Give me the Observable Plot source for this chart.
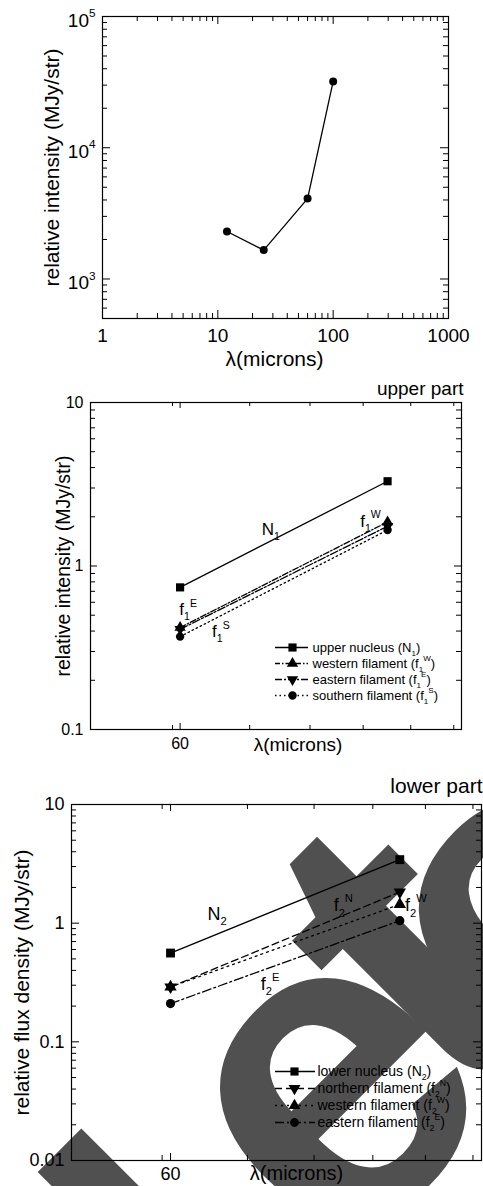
<!DOCTYPE html>
<html><head><meta charset="utf-8">
<script src="https://cdn.jsdelivr.net/npm/d3@7"></script>
<script src="https://cdn.jsdelivr.net/npm/@observablehq/plot@0.6"></script>
<style>
body{margin:0;background:#fff;}
#wrap{position:relative;width:483px;height:1186px;overflow:hidden;font-family:"Liberation Sans",Arial,sans-serif;background:#fff;}
#wm{position:absolute;left:0;top:0;z-index:0}
.panel{position:relative;z-index:1;display:block}
.legend{position:absolute;z-index:2}
</style></head><body><div id="wrap"></div>
<script>
// ---------- data ----------
const wl1 = [12, 25, 60, 100];
const int1 = [2300, 1660, 4100, 32000];

const wlIR = [60, 95];
const upperN1 = [0.74, 3.30];
const upperF1W = [0.42, 1.86];
const upperF1E = [0.41, 1.75];
const upperF1S = [0.37, 1.66];

const lowerN2 = [0.56, 3.43];
const lowerF2N = [0.29, 1.83];
const lowerF2W = [0.29, 1.44];
const lowerF2E = [0.21, 1.05];

// tick labels
const p1XTicks = [1, 10, 100, 1000];
const p1YTicks = [1e3, 1e4, 1e5];
const irXTicks = [60];
const irXMinor = [59, 70, 80, 90, 100, 110];
const p2YTicks = [0.1, 1, 10];
const p3YTicks = [0.01, 0.1, 1, 10];

// annotation labels (data coords)
const upperLabels = [
  {x: 71.9, y: 1.68, t: "N_1"},
  {x: 89.4, y: 1.88, t: "f_1^W"},
  {x: 59.9, y: 0.54, t: "f_1^E"},
  {x: 64.4, y: 0.395, t: "f_1^S"}
];
const lowerLabels = [
  {x: 64.6, y: 1.2, t: "N_2"},
  {x: 83.2, y: 1.41, t: "f_2^N"},
  {x: 96.0, y: 1.41, t: "f_2^W"},
  {x: 71.9, y: 0.307, t: "f_2^E"}
];

// ---------- helpers ----------
const triangleDown = {
  draw(context, size) {
    const s3 = Math.sqrt(3);
    const y = -Math.sqrt(size / (s3 * 3));
    context.moveTo(0, -y * 2);
    context.lineTo(-s3 * y, y);
    context.lineTo(s3 * y, y);
    context.closePath();
  }
};
const rows = (xs, ys) => xs.map((x, i) => ({x, y: ys[i]}));
function logMinor(lo, hi) {
  const out = [];
  for (let e = Math.floor(Math.log10(lo)); e <= Math.ceil(Math.log10(hi)); e++)
    for (let k = 2; k <= 9; k++) { const v = +(k * Math.pow(10, e)).toPrecision(6); if (v > lo && v < hi) out.push(v); }
  return out;
}
const FONT = '"Liberation Sans", Arial, Helvetica, sans-serif';
const style = {background: "transparent", fontFamily: FONT, color: "black", overflow: "visible"};

function buildPanel(c) {
  const fw = 483 - c.ml - c.mr, fh = c.height - c.mt - c.mb;
  const rx = (vals, len) => [
    Plot.ruleX(vals, {x: d => d, insetTop: fh - len, stroke: "black", strokeWidth: 1}),
    Plot.ruleX(vals, {x: d => d, insetBottom: fh - len, stroke: "black", strokeWidth: 1})
  ];
  const ry = (vals, len) => [
    Plot.ruleY(vals, {y: d => d, insetRight: fw - len, stroke: "black", strokeWidth: 1}),
    Plot.ruleY(vals, {y: d => d, insetLeft: fw - len, stroke: "black", strokeWidth: 1})
  ];
  const marks = [
    ...c.series.map(s => Plot.line(s.data, {x: "x", y: "y", stroke: "black", strokeWidth: 1.3, strokeDasharray: s.dash})),
    ...c.series.map(s => Plot.dot(s.data, {x: "x", y: "y", symbol: s.symbol, r: s.r, fill: "black", stroke: "none"})),
    Plot.text(c.labels || [], {x: "x", y: "y", text: "t", textAnchor: "start", fontSize: c.labelFont, fill: "black"}),
    Plot.frame({stroke: "black", strokeWidth: 1.2}),
    ...rx(c.xMajor, c.xMajorLen), ...rx(c.xMinor, c.xMinorLen),
    ...ry(c.yMajor, c.yMajorLen), ...ry(c.yMinor, c.yMinorLen),
    Plot.axisX(c.xMajor, {anchor: "bottom", tickSize: 0, tickPadding: c.xPad, tickFormat: c.xFmt, fontSize: c.tickFont, label: null}),
    Plot.axisY(c.yMajor, {anchor: "left", tickSize: 0, tickPadding: c.yPad, tickFormat: c.yFmt, fontSize: c.tickFont, label: null, dy: c.yDy || 0}),
    Plot.text([c.yTitle], {frameAnchor: "left", rotate: -90, textAnchor: "middle", lineAnchor: "middle", dx: c.yTitleDx, text: d => d, fontSize: c.yTitleFont, fill: "black"}),
    Plot.text([c.xTitle], {frameAnchor: "bottom", textAnchor: "middle", lineAnchor: "middle", dx: c.xTitleDx, dy: c.xTitleDy, text: d => d, fontSize: c.xTitleFont, fill: "black"})
  ];
  if (c.corner) marks.push(Plot.text([c.corner], {frameAnchor: "top-right", textAnchor: "end", lineAnchor: "middle", dx: c.cornerDx, dy: c.cornerDy, text: d => d, fontSize: c.cornerFont, fill: "black"}));
  const svg = Plot.plot({
    width: 483, height: c.height,
    marginTop: c.mt, marginBottom: c.mb, marginLeft: c.ml, marginRight: c.mr,
    x: {type: "log", domain: c.xDomain},
    y: {type: "log", domain: c.yDomain},
    style, marks
  });
  svg.classList.add("panel");
  return svg;
}

function buildLegend(items, o) {
  const labels = items.map(d => d.label);
  const marks = [];
  for (const it of items) {
    marks.push(Plot.ruleY([it.label], {y: d => d, x1: o.lx1, x2: o.lx2, stroke: "black", strokeWidth: 1.3, strokeDasharray: it.dash}));
    marks.push(Plot.dot([it.label], {x: o.mx, y: d => d, symbol: it.symbol, r: it.r, fill: "black", stroke: "none"}));
  }
  marks.push(Plot.text(items, {x: o.tx, y: "label", text: "label", textAnchor: "start", fontSize: o.font, fill: "black"}));
  const svg = Plot.plot({
    width: o.width, height: o.height, margin: 0, axis: null,
    x: {type: "identity"},
    y: {type: "point", domain: labels, range: [o.y0, o.y1]},
    style, marks
  });
  svg.classList.add("legend");
  svg.style.left = o.left + "px";
  svg.style.top = o.top + "px";
  return svg;
}

function richify(root) {
  root.querySelectorAll("text").forEach(t => {
    const s = t.textContent;
    if (!/[_^]/.test(s)) return;
    const fs = parseFloat(getComputedStyle(t).fontSize) || 12;
    const segs = [];
    for (let i = 0; i < s.length; i++) {
      const ch = s[i];
      if ((ch === "_" || ch === "^") && i + 1 < s.length) {
        let body;
        if (s[i + 1] === "{") { const j = s.indexOf("}", i + 2); body = s.slice(i + 2, j); i = j; }
        else { body = s[i + 1]; i++; }
        segs.push({t: body, m: ch === "_" ? "sub" : "sup"});
      } else if (segs.length && segs[segs.length - 1].m === "n") segs[segs.length - 1].t += ch;
      else segs.push({t: ch, m: "n"});
    }
    while (t.firstChild) t.removeChild(t.firstChild);
    let shift = 0;
    for (const g of segs) {
      const ts = document.createElementNS("http://www.w3.org/2000/svg", "tspan");
      const target = g.m === "sub" ? 0.3 * fs : g.m === "sup" ? -0.5 * fs : 0;
      if (target !== shift) ts.setAttribute("dy", target - shift);
      shift = target;
      if (g.m !== "n") ts.setAttribute("font-size", (0.62 * fs).toFixed(2));
      ts.textContent = g.t;
      t.appendChild(ts);
    }
  });
}

// ---------- build ----------
const wrap = document.getElementById("wrap");

// watermark (background decoration): rotated word, its 4th letter placed at a target point
const wm = d3.create("svg").attr("id", "wm").attr("width", 483).attr("height", 1186);
const WF = 450, WSP = -40;
const wg = wm.append("g");
const wt = wg.append("text").attr("x", 0).attr("y", 0)
  .attr("dx", "0 0 -86 86 -12 -41 0").attr("dy", "0 0 44 -44 -28 42 0")
  .attr("font-family", FONT).attr("font-weight", "bold").attr("font-size", WF)
  .attr("letter-spacing", WSP).attr("fill", "#505050").text("Deleted");
wrap.appendChild(wm.node());
{
  const n = wt.node();
  const a = n.getStartPositionOfChar(3), b = n.getEndPositionOfChar(3);
  const cx = (a.x + b.x - WSP) / 2, cy = a.y - 0.265 * WF;
  const k = Math.SQRT1_2;
  const rx = cx * k + cy * k, ry = -cx * k + cy * k;
  wg.attr("transform", `translate(${340 - rx},${1100 - ry}) rotate(-45)`);
}

// Panel 1
wrap.appendChild(buildPanel({
  height: 372, mt: 16, mb: 54, ml: 102, mr: 35,
  xDomain: [1, 1000], yDomain: [500, 1e5],
  series: [{data: rows(wl1, int1), symbol: "circle", r: 4}],
  xMajor: p1XTicks, xMinor: logMinor(1, 1000), xMajorLen: 8, xMinorLen: 5,
  yMajor: p1YTicks, yMinor: logMinor(500, 1e5), yMajorLen: 8, yMinorLen: 5,
  xFmt: d => String(d), yFmt: d => `10^${Math.round(Math.log10(d))}`,
  tickFont: 19, xPad: 10, yPad: 7, yDy: 4,
  yTitle: "relative intensity (MJy/str)", yTitleDx: -50, yTitleFont: 21,
  xTitle: "λ(microns)", xTitleDx: -1, xTitleDy: 41, xTitleFont: 21
}));

// Panel 2
wrap.appendChild(buildPanel({
  height: 398, mt: 30, mb: 41, ml: 90, mr: 22,
  xDomain: [49.2, 111.9], yDomain: [0.1, 10],
  series: [
    {data: rows(wlIR, upperN1), symbol: "square", r: 4.6},
    {data: rows(wlIR, upperF1W), symbol: "triangle", r: 4.2, dash: "6,2,1.5,2"},
    {data: rows(wlIR, upperF1E), symbol: triangleDown, r: 4.2, dash: "8,2,2,2"},
    {data: rows(wlIR, upperF1S), symbol: "circle", r: 4.2, dash: "1.5,3"}
  ],
  labels: upperLabels, labelFont: 17,
  xMajor: irXTicks, xMinor: irXMinor, xMajorLen: 6, xMinorLen: 4,
  yMajor: p2YTicks, yMinor: logMinor(0.1, 10), yMajorLen: 7, yMinorLen: 5,
  xFmt: d => String(d), yFmt: d => String(d),
  tickFont: 16, xPad: 8, yPad: 7,
  yTitle: "relative intensity (MJy/str)", yTitleDx: -27, yTitleFont: 19.5,
  xTitle: "λ(microns)", xTitleDx: 22, xTitleDy: 15, xTitleFont: 19,
  corner: "upper part", cornerDx: 2, cornerDy: -14, cornerFont: 19
}));

// Panel 3
wrap.appendChild(buildPanel({
  height: 416, mt: 34, mb: 26, ml: 71, mr: 2,
  xDomain: [49.2, 111.9], yDomain: [0.01, 10],
  series: [
    {data: rows(wlIR, lowerN2), symbol: "square", r: 5},
    {data: rows(wlIR, lowerF2N), symbol: triangleDown, r: 4.6, dash: "7,4"},
    {data: rows(wlIR, lowerF2W), symbol: "triangle", r: 4.6, dash: "2,4"},
    {data: rows(wlIR, lowerF2E), symbol: "circle", r: 4.6, dash: "9,3,2,3"}
  ],
  labels: lowerLabels, labelFont: 18,
  xMajor: irXTicks, xMinor: irXMinor, xMajorLen: 7, xMinorLen: 5,
  yMajor: p3YTicks, yMinor: logMinor(0.01, 10), yMajorLen: 8, yMinorLen: 5,
  xFmt: d => String(d), yFmt: d => String(d),
  tickFont: 18, xPad: 7, yPad: 7,
  yTitle: "relative flux density (MJy/str)", yTitleDx: -49, yTitleFont: 21,
  xTitle: "λ(microns)", xTitleDx: 20, xTitleDy: 13, xTitleFont: 20,
  corner: "lower part", cornerDx: 1, cornerDy: -18, cornerFont: 21
}));

// Legends
wrap.appendChild(buildLegend([
  {label: "upper nucleus (N_1)", symbol: "square", r: 4.6},
  {label: "western filament (f_1^W)", symbol: "triangle", r: 4.2, dash: "5,2,1.5,2"},
  {label: "eastern filament (f_1^E)", symbol: triangleDown, r: 4.2, dash: "7,2,2,2"},
  {label: "southern filament (f_1^S)", symbol: "circle", r: 4.2, dash: "1.5,3"}
], {left: 270, top: 625, width: 213, height: 92, y0: 13, y1: 79, lx1: 5, lx2: 38, mx: 22, tx: 42, font: 13}));

wrap.appendChild(buildLegend([
  {label: "lower nucleus (N_2)", symbol: "square", r: 4.6},
  {label: "northern filament (f_2^N)", symbol: triangleDown, r: 4.4, dash: "7,4"},
  {label: "western filament (f_2^W)", symbol: "triangle", r: 4.4, dash: "2,4"},
  {label: "eastern filament (f_2^E)", symbol: "circle", r: 4.4, dash: "9,3,2,3"}
], {left: 270, top: 1048, width: 213, height: 97, y0: 13.7, y1: 83.7, lx1: 5, lx2: 45, mx: 24, tx: 47, font: 14}));

richify(wrap);
</script></body></html>
